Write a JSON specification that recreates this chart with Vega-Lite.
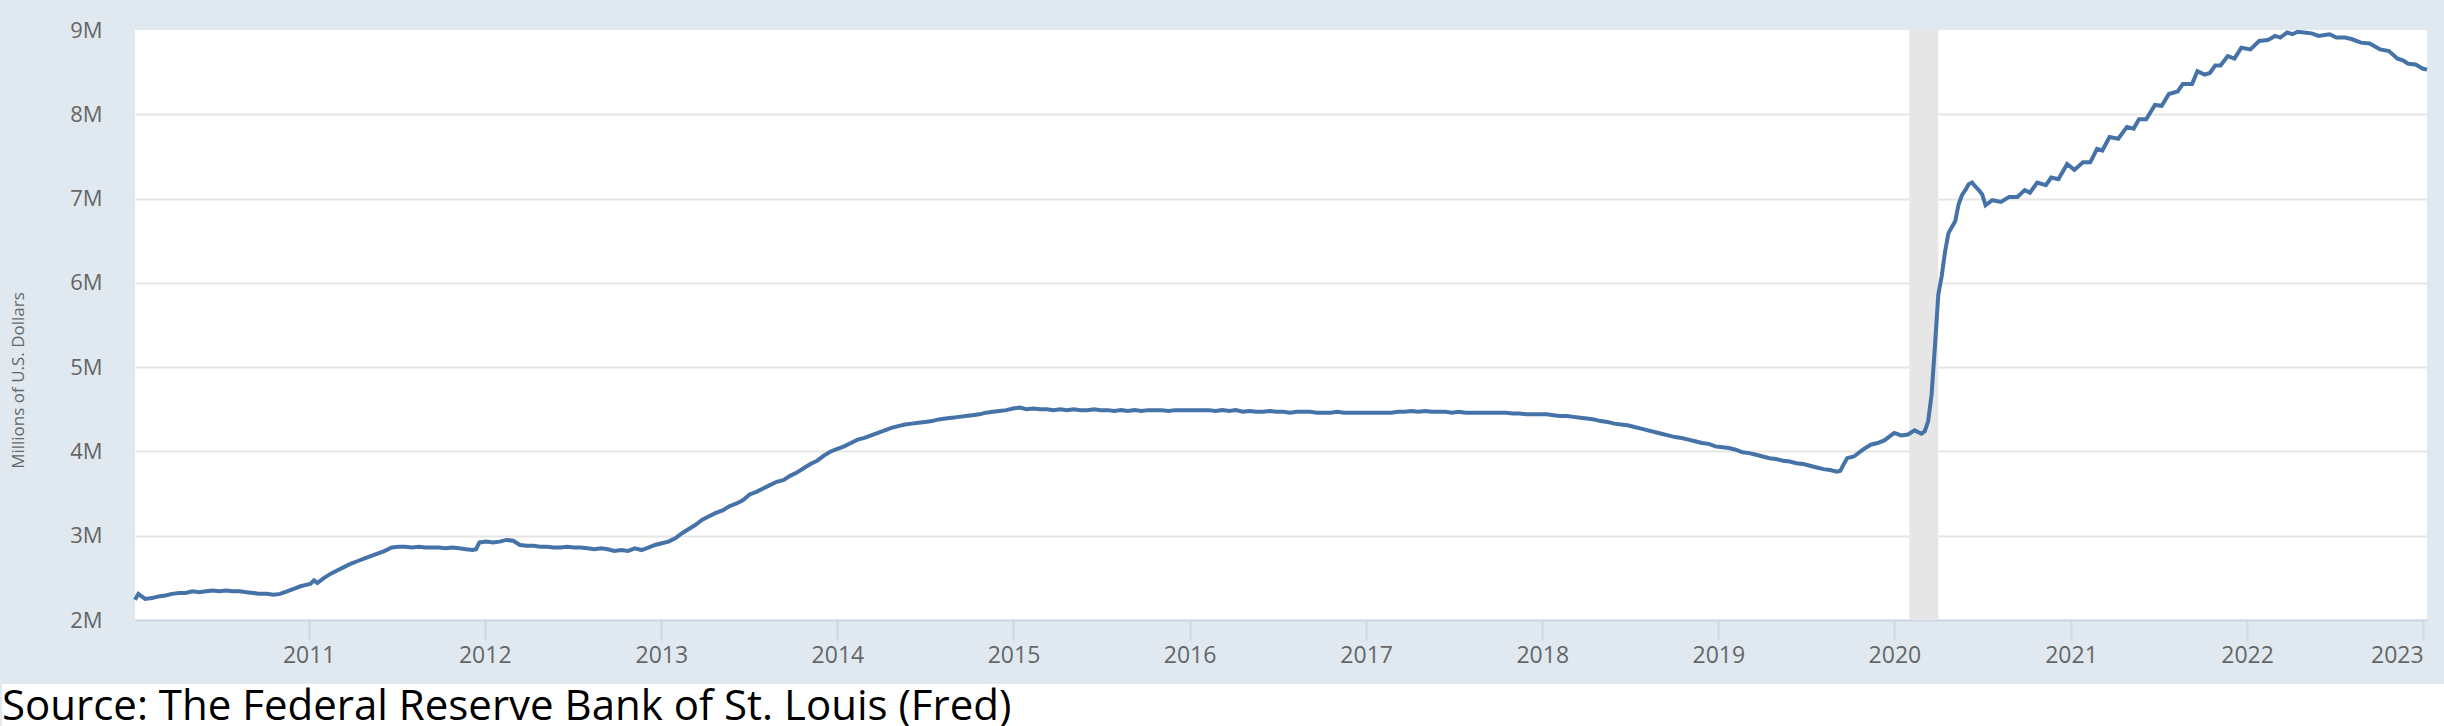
{
  "$schema": "https://vega.github.io/schema/vega-lite/v6.json",
  "background": "#e1e9f0",
  "padding": {"left": -131, "top": 19, "right": 0, "bottom": 0},
  "spacing": -116,
  "datasets": {
    "recession": [{"start": "2020-02-01", "end": "2020-04-01"}],
    "walcl": [
      {"date":"2010-01-06","value":2240000},{"date":"2010-01-13","value":2310000},{"date":"2010-01-27","value":2250000},{"date":"2010-02-10","value":2260000},{"date":"2010-02-24","value":2280000},{"date":"2010-03-10","value":2290000},{"date":"2010-03-24","value":2310000},{"date":"2010-04-07","value":2320000},{"date":"2010-04-21","value":2320000},{"date":"2010-05-05","value":2340000},{"date":"2010-05-19","value":2330000},{"date":"2010-06-02","value":2340000},{"date":"2010-06-16","value":2350000},{"date":"2010-06-30","value":2340000},{"date":"2010-07-14","value":2350000},{"date":"2010-07-28","value":2340000},{"date":"2010-08-11","value":2340000},{"date":"2010-08-25","value":2330000},{"date":"2010-09-08","value":2320000},{"date":"2010-09-22","value":2310000},{"date":"2010-10-06","value":2310000},{"date":"2010-10-20","value":2300000},{"date":"2010-11-03","value":2310000},{"date":"2010-11-17","value":2340000},{"date":"2010-12-01","value":2370000},{"date":"2010-12-15","value":2400000},{"date":"2010-12-29","value":2420000},
      {"date":"2011-01-05","value":2430000},{"date":"2011-01-12","value":2470000},{"date":"2011-01-19","value":2440000},{"date":"2011-02-02","value":2500000},{"date":"2011-02-16","value":2550000},{"date":"2011-03-02","value":2590000},{"date":"2011-03-16","value":2630000},{"date":"2011-03-30","value":2670000},{"date":"2011-04-13","value":2700000},{"date":"2011-04-27","value":2730000},{"date":"2011-05-11","value":2760000},{"date":"2011-05-25","value":2790000},{"date":"2011-06-08","value":2820000},{"date":"2011-06-22","value":2860000},{"date":"2011-07-06","value":2870000},{"date":"2011-07-20","value":2870000},{"date":"2011-08-03","value":2860000},{"date":"2011-08-17","value":2870000},{"date":"2011-08-31","value":2860000},{"date":"2011-09-14","value":2860000},{"date":"2011-09-28","value":2860000},{"date":"2011-10-12","value":2850000},{"date":"2011-10-26","value":2860000},{"date":"2011-11-09","value":2850000},{"date":"2011-11-23","value":2840000},{"date":"2011-12-07","value":2830000},{"date":"2011-12-14","value":2840000},{"date":"2011-12-21","value":2920000},
      {"date":"2012-01-04","value":2930000},{"date":"2012-01-18","value":2920000},{"date":"2012-02-01","value":2930000},{"date":"2012-02-15","value":2950000},{"date":"2012-02-29","value":2940000},{"date":"2012-03-14","value":2890000},{"date":"2012-03-28","value":2880000},{"date":"2012-04-11","value":2880000},{"date":"2012-04-25","value":2870000},{"date":"2012-05-09","value":2870000},{"date":"2012-05-23","value":2860000},{"date":"2012-06-06","value":2860000},{"date":"2012-06-20","value":2870000},{"date":"2012-07-04","value":2860000},{"date":"2012-07-18","value":2860000},{"date":"2012-08-01","value":2850000},{"date":"2012-08-15","value":2840000},{"date":"2012-08-29","value":2850000},{"date":"2012-09-12","value":2840000},{"date":"2012-09-26","value":2820000},{"date":"2012-10-10","value":2830000},{"date":"2012-10-24","value":2820000},{"date":"2012-11-07","value":2850000},{"date":"2012-11-21","value":2830000},{"date":"2012-12-05","value":2860000},{"date":"2012-12-19","value":2890000},
      {"date":"2013-01-02","value":2910000},{"date":"2013-01-16","value":2930000},{"date":"2013-01-30","value":2970000},{"date":"2013-02-13","value":3030000},{"date":"2013-02-27","value":3080000},{"date":"2013-03-13","value":3130000},{"date":"2013-03-27","value":3190000},{"date":"2013-04-10","value":3230000},{"date":"2013-04-24","value":3270000},{"date":"2013-05-08","value":3300000},{"date":"2013-05-22","value":3350000},{"date":"2013-06-05","value":3380000},{"date":"2013-06-19","value":3420000},{"date":"2013-07-03","value":3490000},{"date":"2013-07-17","value":3520000},{"date":"2013-07-31","value":3560000},{"date":"2013-08-14","value":3600000},{"date":"2013-08-28","value":3640000},{"date":"2013-09-11","value":3660000},{"date":"2013-09-25","value":3710000},{"date":"2013-10-09","value":3750000},{"date":"2013-10-23","value":3800000},{"date":"2013-11-06","value":3850000},{"date":"2013-11-20","value":3890000},{"date":"2013-12-04","value":3950000},{"date":"2013-12-18","value":4000000},
      {"date":"2014-01-01","value":4030000},{"date":"2014-01-15","value":4060000},{"date":"2014-01-29","value":4100000},{"date":"2014-02-12","value":4140000},{"date":"2014-02-26","value":4160000},{"date":"2014-03-12","value":4190000},{"date":"2014-03-26","value":4220000},{"date":"2014-04-09","value":4250000},{"date":"2014-04-23","value":4280000},{"date":"2014-05-07","value":4300000},{"date":"2014-05-21","value":4320000},{"date":"2014-06-04","value":4330000},{"date":"2014-06-18","value":4340000},{"date":"2014-07-02","value":4350000},{"date":"2014-07-16","value":4360000},{"date":"2014-07-30","value":4380000},{"date":"2014-08-13","value":4390000},{"date":"2014-08-27","value":4400000},{"date":"2014-09-10","value":4410000},{"date":"2014-09-24","value":4420000},{"date":"2014-10-08","value":4430000},{"date":"2014-10-22","value":4440000},{"date":"2014-11-05","value":4460000},{"date":"2014-11-19","value":4470000},{"date":"2014-12-03","value":4480000},{"date":"2014-12-17","value":4490000},{"date":"2014-12-31","value":4510000},
      {"date":"2015-01-14","value":4520000},{"date":"2015-01-28","value":4500000},{"date":"2015-02-11","value":4510000},{"date":"2015-02-25","value":4500000},{"date":"2015-03-11","value":4500000},{"date":"2015-03-25","value":4490000},{"date":"2015-04-08","value":4500000},{"date":"2015-04-22","value":4490000},{"date":"2015-05-06","value":4500000},{"date":"2015-05-20","value":4490000},{"date":"2015-06-03","value":4490000},{"date":"2015-06-17","value":4500000},{"date":"2015-07-01","value":4490000},{"date":"2015-07-15","value":4490000},{"date":"2015-07-29","value":4480000},{"date":"2015-08-12","value":4490000},{"date":"2015-08-26","value":4480000},{"date":"2015-09-09","value":4490000},{"date":"2015-09-23","value":4480000},{"date":"2015-10-07","value":4490000},{"date":"2015-10-21","value":4490000},{"date":"2015-11-04","value":4490000},{"date":"2015-11-18","value":4480000},{"date":"2015-12-02","value":4490000},{"date":"2015-12-16","value":4490000},{"date":"2015-12-30","value":4490000},
      {"date":"2016-01-13","value":4490000},{"date":"2016-01-27","value":4490000},{"date":"2016-02-10","value":4490000},{"date":"2016-02-24","value":4480000},{"date":"2016-03-09","value":4490000},{"date":"2016-03-23","value":4480000},{"date":"2016-04-06","value":4490000},{"date":"2016-04-20","value":4470000},{"date":"2016-05-04","value":4480000},{"date":"2016-05-18","value":4470000},{"date":"2016-06-01","value":4470000},{"date":"2016-06-15","value":4480000},{"date":"2016-06-29","value":4470000},{"date":"2016-07-13","value":4470000},{"date":"2016-07-27","value":4460000},{"date":"2016-08-10","value":4470000},{"date":"2016-08-24","value":4470000},{"date":"2016-09-07","value":4470000},{"date":"2016-09-21","value":4460000},{"date":"2016-10-05","value":4460000},{"date":"2016-10-19","value":4460000},{"date":"2016-11-02","value":4470000},{"date":"2016-11-16","value":4460000},{"date":"2016-11-30","value":4460000},{"date":"2016-12-14","value":4460000},{"date":"2016-12-28","value":4460000},
      {"date":"2017-01-11","value":4460000},{"date":"2017-01-25","value":4460000},{"date":"2017-02-08","value":4460000},{"date":"2017-02-22","value":4460000},{"date":"2017-03-08","value":4470000},{"date":"2017-03-22","value":4470000},{"date":"2017-04-05","value":4480000},{"date":"2017-04-19","value":4470000},{"date":"2017-05-03","value":4480000},{"date":"2017-05-17","value":4470000},{"date":"2017-05-31","value":4470000},{"date":"2017-06-14","value":4470000},{"date":"2017-06-28","value":4460000},{"date":"2017-07-12","value":4470000},{"date":"2017-07-26","value":4460000},{"date":"2017-08-09","value":4460000},{"date":"2017-08-23","value":4460000},{"date":"2017-09-06","value":4460000},{"date":"2017-09-20","value":4460000},{"date":"2017-10-04","value":4460000},{"date":"2017-10-18","value":4460000},{"date":"2017-11-01","value":4450000},{"date":"2017-11-15","value":4450000},{"date":"2017-11-29","value":4440000},{"date":"2017-12-13","value":4440000},{"date":"2017-12-27","value":4440000},
      {"date":"2018-01-10","value":4440000},{"date":"2018-01-24","value":4430000},{"date":"2018-02-07","value":4420000},{"date":"2018-02-21","value":4420000},{"date":"2018-03-07","value":4410000},{"date":"2018-03-21","value":4400000},{"date":"2018-04-04","value":4390000},{"date":"2018-04-18","value":4380000},{"date":"2018-05-02","value":4360000},{"date":"2018-05-16","value":4350000},{"date":"2018-05-30","value":4330000},{"date":"2018-06-13","value":4320000},{"date":"2018-06-27","value":4310000},{"date":"2018-07-11","value":4290000},{"date":"2018-07-25","value":4270000},{"date":"2018-08-08","value":4250000},{"date":"2018-08-22","value":4230000},{"date":"2018-09-05","value":4210000},{"date":"2018-09-19","value":4190000},{"date":"2018-10-03","value":4170000},{"date":"2018-10-17","value":4160000},{"date":"2018-10-31","value":4140000},{"date":"2018-11-14","value":4120000},{"date":"2018-11-28","value":4100000},{"date":"2018-12-12","value":4090000},{"date":"2018-12-26","value":4060000},
      {"date":"2019-01-09","value":4050000},{"date":"2019-01-23","value":4040000},{"date":"2019-02-06","value":4020000},{"date":"2019-02-20","value":3990000},{"date":"2019-03-06","value":3980000},{"date":"2019-03-20","value":3960000},{"date":"2019-04-03","value":3940000},{"date":"2019-04-17","value":3920000},{"date":"2019-05-01","value":3910000},{"date":"2019-05-15","value":3890000},{"date":"2019-05-29","value":3880000},{"date":"2019-06-12","value":3860000},{"date":"2019-06-26","value":3850000},{"date":"2019-07-10","value":3830000},{"date":"2019-07-24","value":3810000},{"date":"2019-08-07","value":3790000},{"date":"2019-08-21","value":3780000},{"date":"2019-09-04","value":3760000},{"date":"2019-09-11","value":3770000},{"date":"2019-09-18","value":3850000},{"date":"2019-09-25","value":3920000},{"date":"2019-10-09","value":3940000},{"date":"2019-10-23","value":4000000},{"date":"2019-10-30","value":4030000},{"date":"2019-11-13","value":4080000},{"date":"2019-11-27","value":4100000},{"date":"2019-12-11","value":4130000},{"date":"2019-12-25","value":4190000},
      {"date":"2020-01-01","value":4220000},{"date":"2020-01-15","value":4190000},{"date":"2020-01-29","value":4200000},{"date":"2020-02-12","value":4250000},{"date":"2020-02-26","value":4210000},{"date":"2020-03-04","value":4240000},{"date":"2020-03-11","value":4360000},{"date":"2020-03-18","value":4670000},{"date":"2020-03-25","value":5250000},{"date":"2020-04-01","value":5860000},{"date":"2020-04-08","value":6080000},{"date":"2020-04-15","value":6370000},{"date":"2020-04-22","value":6590000},{"date":"2020-04-29","value":6660000},{"date":"2020-05-06","value":6730000},{"date":"2020-05-13","value":6930000},{"date":"2020-05-20","value":7040000},{"date":"2020-05-27","value":7100000},{"date":"2020-06-03","value":7170000},{"date":"2020-06-10","value":7190000},{"date":"2020-06-17","value":7140000},{"date":"2020-06-24","value":7100000},{"date":"2020-07-01","value":7050000},{"date":"2020-07-08","value":6920000},{"date":"2020-07-22","value":6980000},{"date":"2020-08-09","value":6960000},{"date":"2020-08-26","value":7020000},{"date":"2020-09-12","value":7020000},{"date":"2020-09-27","value":7100000},{"date":"2020-10-08","value":7070000},{"date":"2020-10-23","value":7190000},{"date":"2020-11-10","value":7160000},{"date":"2020-11-21","value":7250000},{"date":"2020-12-06","value":7230000},{"date":"2020-12-24","value":7410000},
      {"date":"2021-01-08","value":7340000},{"date":"2021-01-26","value":7430000},{"date":"2021-02-10","value":7430000},{"date":"2021-02-24","value":7590000},{"date":"2021-03-07","value":7570000},{"date":"2021-03-22","value":7730000},{"date":"2021-04-09","value":7710000},{"date":"2021-04-27","value":7850000},{"date":"2021-05-11","value":7830000},{"date":"2021-05-22","value":7940000},{"date":"2021-06-06","value":7940000},{"date":"2021-06-24","value":8110000},{"date":"2021-07-08","value":8100000},{"date":"2021-07-23","value":8240000},{"date":"2021-08-10","value":8270000},{"date":"2021-08-21","value":8360000},{"date":"2021-09-09","value":8360000},{"date":"2021-09-20","value":8510000},{"date":"2021-10-05","value":8470000},{"date":"2021-10-16","value":8490000},{"date":"2021-10-27","value":8580000},{"date":"2021-11-07","value":8580000},{"date":"2021-11-22","value":8690000},{"date":"2021-12-06","value":8660000},{"date":"2021-12-20","value":8790000},
      {"date":"2022-01-08","value":8770000},{"date":"2022-01-26","value":8870000},{"date":"2022-02-13","value":8880000},{"date":"2022-02-28","value":8930000},{"date":"2022-03-11","value":8910000},{"date":"2022-03-25","value":8970000},{"date":"2022-04-05","value":8950000},{"date":"2022-04-16","value":8980000},{"date":"2022-05-15","value":8960000},{"date":"2022-05-29","value":8930000},{"date":"2022-06-21","value":8950000},{"date":"2022-07-05","value":8910000},{"date":"2022-07-23","value":8910000},{"date":"2022-08-07","value":8890000},{"date":"2022-08-25","value":8850000},{"date":"2022-09-12","value":8840000},{"date":"2022-10-04","value":8770000},{"date":"2022-10-22","value":8750000},{"date":"2022-11-09","value":8660000},{"date":"2022-11-20","value":8640000},{"date":"2022-12-01","value":8600000},{"date":"2022-12-16","value":8590000},
      {"date":"2023-01-01","value":8540000},{"date":"2023-01-09","value":8530000}
    ]
  },
  "vconcat": [
    {
      "width": 2292,
      "height": 590,
      "view": {"fill": "#ffffff", "stroke": null},
      "layer": [
        {
          "data": {"name": "recession"},
          "mark": {"type": "rect", "color": "#e6e6e6"},
          "encoding": {
            "x": {"field": "start", "type": "temporal"},
            "x2": {"field": "end"}
          }
        },
        {
          "data": {"name": "walcl"},
          "mark": {"type": "line", "color": "#4572a7", "strokeWidth": 4},
          "encoding": {
            "x": {
              "field": "date",
              "type": "temporal",
              "scale": {"type": "utc"},
              "axis": {
                "title": null,
                "format": "%Y",
                "tickCount": {"interval": "year", "step": 1},
                "grid": false,
                "domainColor": "#ccd6eb",
                "domainWidth": 2,
                "tickColor": "#ccd6eb",
                "tickWidth": 2,
                "tickSize": 20,
                "labelPadding": 4,
                "labelFont": "Open Sans",
                "labelFontSize": 23,
                "labelColor": "#666666",
                "labelFlush": 10
              }
            },
            "y": {
              "field": "value",
              "type": "quantitative",
              "scale": {"domain": [2000000, 9000000], "nice": false, "zero": false},
              "axis": {
                "title": "Millions of U.S. Dollars",
                "titleFont": "Open Sans",
                "titleFontSize": 17,
                "titleFontWeight": "normal",
                "titleColor": "#666666",
                "titlePadding": 42,
                "titleY": 350,
                "values": [2000000, 3000000, 4000000, 5000000, 6000000, 7000000, 8000000, 9000000],
                "format": "~s",
                "domain": false,
                "ticks": false,
                "labelPadding": 33,
                "labelFont": "Open Sans",
                "labelFontSize": 22,
                "labelColor": "#666666",
                "gridColor": "#e6e6e6",
                "gridWidth": 2,
                "gridOpacity": {"condition": {"test": "datum.value >= 9000000", "value": 0}, "value": 1}
              }
            }
          }
        }
      ]
    },
    {
      "width": 2309,
      "height": 47,
      "view": {"fill": "#ffffff", "stroke": "#ffffff", "strokeWidth": 266, "strokeDash": [0, 4665, 47, 0]},
      "data": {"values": []},
      "mark": "text",
      "title": {
        "text": "Source: The Federal Reserve Bank of St. Louis (Fred)",
        "orient": "bottom",
        "anchor": "start",
        "frame": "group",
        "offset": -11,
        "dx": -133,
        "baseline": "alphabetic",
        "font": "Open Sans",
        "fontSize": 42,
        "fontWeight": "normal",
        "color": "#000000"
      }
    }
  ]
}
